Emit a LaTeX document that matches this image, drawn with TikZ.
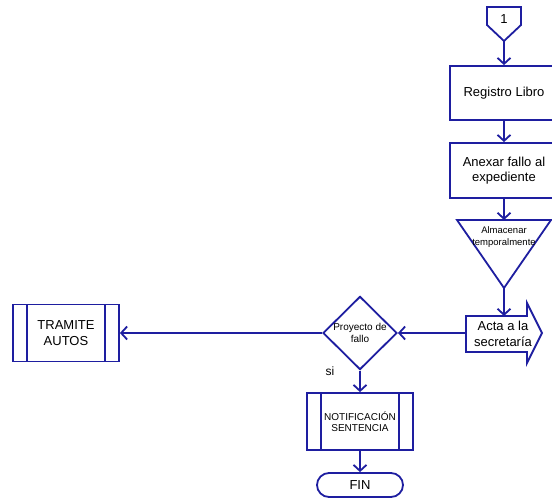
\documentclass[tikz,border=0pt]{standalone}
\usepackage{fontspec}
\setmainfont{Liberation Sans}
\usetikzlibrary{arrows.meta,shapes.geometric}
\definecolor{flujo}{RGB}{30,30,160}

\begin{document}
\begin{tikzpicture}[x=1pt, y=-1pt,
    linea/.style={flujo, line width=1.8pt},
    flecha/.style={linea, -{Straight Barb[length=6pt, width=13pt]}},
    caja/.style={linea, rectangle, draw, fill=white, inner sep=0pt, align=center, text=black, font=\fontsize{13}{15.6}\selectfont},
    subproceso/.style={caja, path picture={
        \draw[flujo, line width=1.1pt] ([xshift=14pt]path picture bounding box.north west) -- ([xshift=14pt]path picture bounding box.south west);
        \draw[flujo, line width=1.1pt] ([xshift=-14pt]path picture bounding box.north east) -- ([xshift=-14pt]path picture bounding box.south east);}},
    texto/.style={align=center, text=black}]
    \clip (0,0) rectangle (552,500);

    % conector de pagina
    \draw[linea, fill=white] (487,7) -- (521,7) -- (521,25) -- (504,41) -- (487,25) -- cycle;
    \node[texto, font=\fontsize{13}{15}\selectfont] (uno) at (504,19) {1};
    \coordinate (unoPunta) at (504,41);

    \node[caja, minimum width=108pt, minimum height=54pt] (registro) at (504,93) {Registro Libro};
    \node[caja, minimum width=108pt, minimum height=55pt] (anexar) at (504,170.5) {Anexar fallo al\\expediente};

    % almacenamiento
    \draw[linea, fill=white] (457,220) -- (551,220) -- (504,288) -- cycle;
    \coordinate (almTope) at (504,220);
    \coordinate (almPunta) at (504,288);
    \node[texto, font=\fontsize{9.5}{12}\selectfont] (almacenar) at (504,237) {Almacenar\\temporalmente};

    % envio
    \draw[linea, fill=white] (466,316) -- (527,316) -- (527,303) -- (542,333) -- (527,363) -- (527,352) -- (466,352) -- cycle;
    \coordinate (actaTope) at (504,316);
    \coordinate (actaIzq) at (466,333);
    \node[texto, font=\fontsize{13}{15.6}\selectfont] (acta) at (503,334) {Acta a la\\secretaría};

    \node[linea, draw, diamond, fill=white, inner sep=0pt, minimum width=74pt, minimum height=72pt, align=center, text=black, font=\fontsize{10}{12.5}\selectfont] (proyecto) at (360,333) {Proyecto de\\fallo};
    \node[texto, font=\fontsize{12}{14}\selectfont] (si) at (330,371) {si};

    \node[subproceso, minimum width=106pt, minimum height=57pt] (tramite) at (66,333) {TRAMITE\\AUTOS};
    \node[subproceso, minimum width=106pt, minimum height=57pt, font=\fontsize{10}{11}\selectfont] (notificacion) at (360,421.5) {NOTIFICACIÓN\\SENTENCIA};
    \node[caja, rounded corners=12pt, minimum width=86pt, minimum height=24pt] (fin) at (360,485) {FIN};

    \draw[flecha] (unoPunta) -- (registro);
    \draw[flecha] (registro) -- (anexar);
    \draw[flecha] (anexar) -- (almTope);
    \draw[flecha] (almPunta) -- (actaTope);
    \draw[flecha] (actaIzq) -- (proyecto);
    \draw[flecha] (proyecto) -- (tramite);
    \draw[flecha] (proyecto) -- (notificacion);
    \draw[flecha] (notificacion) -- (fin);
\end{tikzpicture}
\end{document}
